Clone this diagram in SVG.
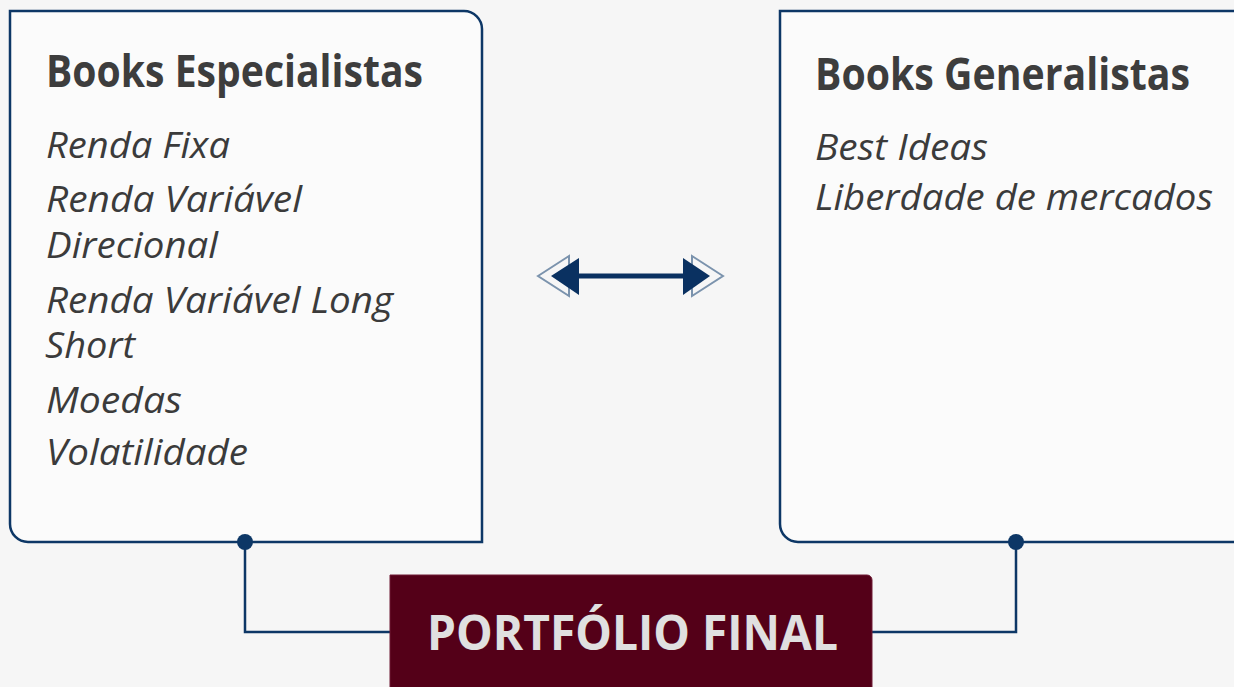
<svg xmlns="http://www.w3.org/2000/svg" width="1234" height="687" viewBox="0 0 1234 687">
  <style>
    .box { fill: #fbfbfb; stroke: #0d3766; stroke-width: 2.5; }
    .title { font-family: "Open Sans", "Liberation Sans", sans-serif; font-weight: bold; font-size: 45px; fill: #3d3d3d; }
    .item { font-family: "Open Sans", "Liberation Sans", sans-serif; font-style: italic; font-size: 36px; fill: #3b3b3b; }
    .conn { fill: none; stroke: #0d3766; stroke-width: 2.5; }
    .dot { fill: #0d3766; }
    .final { font-family: "Open Sans", "Liberation Sans", sans-serif; font-weight: bold; font-size: 49px; fill: #e0e0e0; }
  </style>
  <rect x="0" y="0" width="1234" height="687" fill="#f6f6f6"/>

  <g id="connectors">
    <path class="conn" d="M245,542 V632 H392"/>
    <path class="conn" d="M1016,542 V632 H864"/>
  </g>

  <g id="books-especialistas">
    <path class="box" d="M10,11 H464 A18,18 0 0 1 482,29 V542 H28 A18,18 0 0 1 10,524 Z"/>
    <text class="title" x="46" y="87" textLength="377" lengthAdjust="spacingAndGlyphs">Books Especialistas</text>
    <text class="item" x="46" y="158" textLength="184" lengthAdjust="spacingAndGlyphs">Renda Fixa</text>
    <text class="item" x="46" y="212" textLength="256" lengthAdjust="spacingAndGlyphs">Renda Variável</text>
    <text class="item" x="46" y="258" textLength="172" lengthAdjust="spacingAndGlyphs">Direcional</text>
    <text class="item" x="46" y="313" textLength="347" lengthAdjust="spacingAndGlyphs">Renda Variável Long</text>
    <text class="item" x="45" y="358" textLength="90" lengthAdjust="spacingAndGlyphs">Short</text>
    <text class="item" x="46" y="413" textLength="136" lengthAdjust="spacingAndGlyphs">Moedas</text>
    <text class="item" x="46" y="465" textLength="202" lengthAdjust="spacingAndGlyphs">Volatilidade</text>
  </g>

  <g id="books-generalistas">
    <path class="box" d="M780,11 H1250 V542 H798 A18,18 0 0 1 780,524 Z"/>
    <text class="title" x="815" y="90" textLength="375" lengthAdjust="spacingAndGlyphs">Books Generalistas</text>
    <text class="item" x="815" y="160" textLength="173" lengthAdjust="spacingAndGlyphs">Best Ideas</text>
    <text class="item" x="815" y="210" textLength="398" lengthAdjust="spacingAndGlyphs">Liberdade de mercados</text>
  </g>

  <g id="dots">
    <circle class="dot" cx="245" cy="542" r="8"/>
    <circle class="dot" cx="1016" cy="542" r="8"/>
  </g>

  <g id="double-arrow">
    <polygon points="538,276 569,256 569,296" fill="none" stroke="#7b93ad" stroke-width="2"/>
    <polygon points="723,276 692,256 692,296" fill="none" stroke="#7b93ad" stroke-width="2"/>
    <line x1="575" y1="276" x2="688" y2="276" stroke="#0a3161" stroke-width="5"/>
    <polygon points="551,276 579,258 579,295" fill="#0a3161"/>
    <polygon points="710,276 683,258 683,295" fill="#0a3161"/>
  </g>

  <g id="portfolio-final">
    <path d="M390,575 H867 A5,5 0 0 1 872,580 V700 H390 Z" fill="#540018" stroke="#6e1a35" stroke-width="1"/>
    <text class="final" x="427" y="650" textLength="411" lengthAdjust="spacingAndGlyphs">PORTFÓLIO FINAL</text>
  </g>
</svg>
